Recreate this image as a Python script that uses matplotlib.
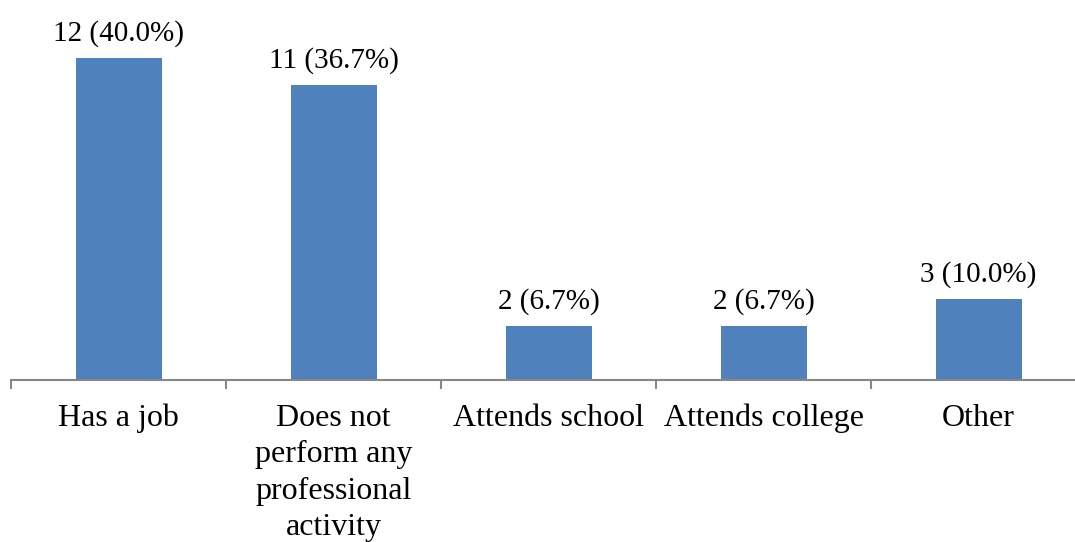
import numpy as np
import matplotlib.pyplot as plt

categories = ["Has a job", "Does not\nperform any\nprofessional\nactivity",
              "Attends school", "Attends college", "Other"]
counts = [12, 11, 2, 2, 3]
percents = [40.0, 36.7, 6.7, 6.7, 10.0]

plt.rcParams['font.family'] = ['Liberation Serif', 'DejaVu Serif']

fig = plt.figure(figsize=(10.75, 5.42), dpi=100)
ax = fig.add_axes([11/1075, 0.2998, 1.0, 0.7002])

x = np.arange(len(categories))
bars = ax.bar(x, counts, width=0.4, color="#4F81BD", zorder=2)

for xi, c, p in zip(x, counts, percents):
    ax.annotate(f"{c} ({p:.1f}%)", (xi, c), xytext=(0, 12.5), textcoords="offset points",
                ha="center", va="baseline", fontsize=21, color="black")

ax.set_xlim(-0.5, len(categories) - 0.5)
ax.set_ylim(0, 14.17)

# category boundaries as ticks, labels in between
ax.set_xticks(np.arange(len(categories) + 1) - 0.5)
ax.set_xticklabels([])
ax.set_xticks(x, minor=True)
ax.set_xticklabels(categories, minor=True, fontsize=23, linespacing=1.34)
ax.tick_params(axis="x", which="major", direction="out", length=6.5, width=1.5, color="#878787")
ax.tick_params(axis="x", which="minor", length=0, pad=17.5)
ax.set_yticks([])

for s in ["top", "right", "left"]:
    ax.spines[s].set_visible(False)
ax.spines["bottom"].set_color("#878787")
ax.spines["bottom"].set_linewidth(1.5)

fig.savefig("out.png", dpi=100)
